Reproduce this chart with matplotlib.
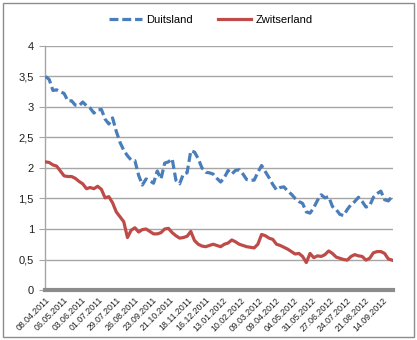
import matplotlib
matplotlib.use("Agg")
import matplotlib.pyplot as plt
from matplotlib.patches import Rectangle
import numpy as np

plt.rcParams["font.family"] = ["Liberation Sans", "DejaVu Sans"]

# values sampled roughly every 4 trading days, starting 08.04.2011
duitsland = [
    3.50, 3.45, 3.27, 3.28, 3.25, 3.22, 3.10, 3.10, 3.03, 3.02,
    3.08, 3.02, 2.98, 2.90, 2.95, 2.96, 2.80, 2.72, 2.82, 2.60,
    2.42, 2.29, 2.20, 2.13, 2.12, 1.88, 1.72, 1.82, 1.79, 1.75,
    1.95, 1.82, 2.08, 2.10, 2.15, 1.80, 1.74, 1.90, 1.92, 2.28,
    2.26, 2.15, 2.00, 1.93, 1.92, 1.90, 1.83, 1.77, 1.84, 1.96,
    1.90, 1.96, 1.97, 1.90, 1.81, 1.80, 1.80, 1.93, 2.04, 1.94,
    1.84, 1.73, 1.64, 1.68, 1.69, 1.62, 1.57, 1.50, 1.45, 1.42,
    1.28, 1.26, 1.35, 1.47, 1.56, 1.51, 1.53, 1.37, 1.32, 1.24,
    1.22, 1.32, 1.40, 1.45, 1.52, 1.45, 1.36, 1.38, 1.52, 1.58,
    1.62, 1.48, 1.46, 1.53,
]
zwitserland = [
    2.10, 2.09, 2.05, 2.03, 1.95, 1.87, 1.86, 1.86, 1.83, 1.78,
    1.74, 1.66, 1.68, 1.66, 1.70, 1.65, 1.51, 1.53, 1.43, 1.28,
    1.20, 1.12, 0.86, 0.98, 1.02, 0.95, 0.99, 1.00, 0.96, 0.92,
    0.92, 0.94, 1.00, 1.01, 0.94, 0.89, 0.85, 0.86, 0.88, 0.96,
    0.81, 0.75, 0.72, 0.71, 0.73, 0.75, 0.73, 0.71, 0.75, 0.77,
    0.82, 0.79, 0.75, 0.73, 0.71, 0.70, 0.69, 0.75, 0.91, 0.89,
    0.85, 0.83, 0.75, 0.73, 0.70, 0.67, 0.63, 0.59, 0.60, 0.55,
    0.45, 0.60, 0.53, 0.56, 0.55, 0.58, 0.64, 0.60, 0.54, 0.52,
    0.50, 0.49, 0.55, 0.58, 0.56, 0.55, 0.49, 0.52, 0.61, 0.63,
    0.63, 0.60, 0.51, 0.49,
]
tick_labels = [
    "08.04.2011", "06.05.2011", "03.06.2011", "01.07.2011", "29.07.2011",
    "26.08.2011", "23.09.2011", "21.10.2011", "18.11.2011", "16.12.2011",
    "13.01.2012", "10.02.2012", "09.03.2012", "09.04.2012", "04.05.2012",
    "31.05.2012", "27.06.2012", "24.07.2012", "21.08.2012", "14.09.2012",
]
y_labels = ["0", "0,5", "1", "1,5", "2", "2,5", "3", "3,5", "4"]

step = 4.2        # trading days between samples
tick_every = 20   # trading days between date labels
n_days = 392

days = np.arange(len(duitsland)) * step

fig = plt.figure(figsize=(4.17, 3.40), dpi=100)
ax = fig.add_axes([0.108, 0.147, 0.834, 0.718])

grid_col = "#a6a6a6"
for v in np.arange(0.5, 4.01, 0.5):
    ax.axhline(v, color=grid_col, lw=1.0, zorder=1)

ax.plot(days, duitsland, color="#4a7ebb", lw=2.3, ls=(0, (2.8, 1.2)),
        label="Duitsland", zorder=3)
ax.plot(days, zwitserland, color="#be4b48", lw=2.3, label="Zwitserland", zorder=3)

ax.set_xlim(-0.5, n_days - 0.5)
ax.set_ylim(0, 4)
ax.set_yticks(np.arange(0, 4.01, 0.5))
ax.set_yticklabels(y_labels, fontsize=8, color="#202020")
ax.set_xticks(np.arange(len(tick_labels)) * tick_every)
ax.set_xticklabels(tick_labels, rotation=45, ha="right", rotation_mode="anchor",
                   fontsize=6.3, color="#202020")
ax.tick_params(axis="y", length=4, color=grid_col, pad=4)
ax.tick_params(axis="x", length=0, pad=4)

for s in ["top", "right"]:
    ax.spines[s].set_visible(False)
ax.spines["left"].set_color(grid_col)
ax.spines["left"].set_linewidth(1.0)
ax.spines["bottom"].set_color("#8c8c8c")
ax.spines["bottom"].set_linewidth(3.0)

fig.legend(loc="upper center", bbox_to_anchor=(0.505, 0.985), ncol=2, frameon=False,
           fontsize=8, handlelength=3.0, columnspacing=2.2, handletextpad=0.4)

fig.patches.append(Rectangle((0.008, 0.008), 0.984, 0.984, transform=fig.transFigure,
                             fill=False, edgecolor="#8c8c8c", lw=1.0))

fig.savefig("out.png", dpi=100, facecolor="white")
